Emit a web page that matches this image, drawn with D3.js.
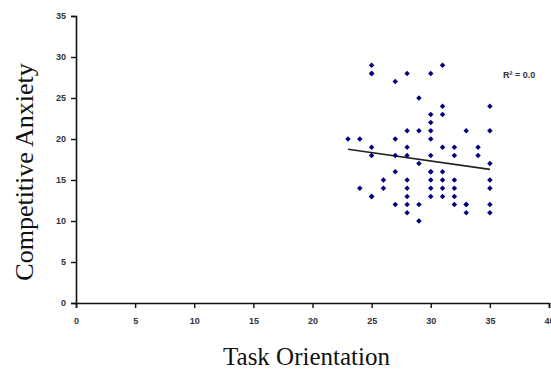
<!DOCTYPE html>
<html>
<head>
<meta charset="utf-8">
<script src="https://cdn.jsdelivr.net/npm/d3@7"></script>
<style>
  html, body { margin: 0; padding: 0; background: #fff; }
  svg { display: block; }
</style>
</head>
<body>
<svg id="chart" width="551" height="372"></svg>
<script>
// ---- data ----
const taskOrientation = [
  23,
  24, 24,
  25, 25, 25, 25, 25, 25, 25,
  26, 26,
  27, 27, 27, 27, 27,
  28, 28, 28, 28, 28, 28, 28, 28, 28,
  29, 29, 29, 29, 29,
  30, 30, 30, 30, 30, 30, 30, 30, 30, 30, 30,
  31, 31, 31, 31, 31, 31, 31, 31,
  32, 32, 32, 32, 32, 32,
  33, 33, 33, 33,
  34, 34,
  35, 35, 35, 35, 35, 35, 35
];
const competitiveAnxiety = [
  20,
  20, 14,
  29, 28, 28, 19, 18, 13, 13,
  15, 14,
  27, 20, 18, 16, 12,
  28, 21, 19, 18, 15, 14, 13, 12, 11,
  25, 21, 17, 12, 10,
  28, 23, 22, 21, 20, 18, 16, 16, 15, 14, 13,
  29, 24, 23, 19, 16, 15, 14, 13,
  19, 18, 15, 14, 13, 12,
  21, 12, 12, 11,
  19, 18,
  24, 21, 17, 15, 14, 12, 11
];
const trendX = [23, 35];
const trendY = [18.75, 16.3];
const xTicks = [0, 5, 10, 15, 20, 25, 30, 35, 40];
const yTicks = [0, 5, 10, 15, 20, 25, 30, 35];
const xTitle = "Task Orientation";
const yTitle = "Competitive Anxiety";
const rLabel = "R² = 0.0";

// ---- drawing ----
(function () {
  const svg = d3.select("#chart");
  const mLeft = 76, mRight = 549, mTop = 16, mBottom = 303;

  const x = d3.scaleLinear().domain([0, 40]).range([mLeft, mRight]);
  const y = d3.scaleLinear().domain([0, 35]).range([mBottom, mTop]);

  const tickFont = "'Liberation Sans', Arial, sans-serif";

  const xAxis = svg.append("g")
    .attr("transform", `translate(0,${mBottom})`)
    .call(d3.axisBottom(x).tickValues(xTicks).tickSizeOuter(0).tickSize(5).tickPadding(10));
  const yAxis = svg.append("g")
    .attr("transform", `translate(${mLeft},0)`)
    .call(d3.axisLeft(y).tickValues(yTicks).tickSizeOuter(0).tickSize(5).tickPadding(5));

  [xAxis, yAxis].forEach(g => {
    g.select(".domain").attr("stroke", "#111").attr("stroke-width", 1.6);
    g.selectAll(".tick line").attr("stroke", "#111").attr("stroke-width", 1.4);
    g.selectAll(".tick text")
      .attr("font-family", tickFont)
      .attr("font-size", 9)
      .attr("font-weight", "bold")
      .attr("fill", "#333");
  });

  // trend line
  const pts = trendX.map((v, i) => [v, trendY[i]]);
  svg.append("path")
    .attr("d", d3.line().x(d => x(d[0])).y(d => y(d[1]))(pts))
    .attr("stroke", "#222")
    .attr("stroke-width", 1.6)
    .attr("fill", "none");

  // markers (diamonds)
  const sym = d3.symbol().type(d3.symbolSquare).size(15);
  svg.append("g").selectAll("path")
    .data(taskOrientation.map((v, i) => [v, competitiveAnxiety[i]]))
    .join("path")
    .attr("d", sym)
    .attr("transform", d => `translate(${x(d[0])},${y(d[1])}) rotate(45)`)
    .attr("fill", "#000080");

  // R² label
  svg.append("text")
    .attr("x", 503).attr("y", 78)
    .attr("font-family", tickFont)
    .attr("font-size", 9)
    .attr("font-weight", "bold")
    .attr("fill", "#333")
    .text(rLabel);

  // axis titles
  const titleFont = "'Liberation Serif', 'Times New Roman', serif";
  svg.append("text")
    .attr("x", (mLeft + mRight) / 2 - 6).attr("y", 365)
    .attr("text-anchor", "middle")
    .attr("font-family", titleFont)
    .attr("font-size", 25)
    .attr("fill", "#111")
    .text(xTitle);

  svg.append("text")
    .attr("transform", `translate(33,172) rotate(-90)`)
    .attr("text-anchor", "middle")
    .attr("font-family", titleFont)
    .attr("font-size", 26)
    .attr("fill", "#111")
    .text(yTitle);
})();
</script>
</body>
</html>
